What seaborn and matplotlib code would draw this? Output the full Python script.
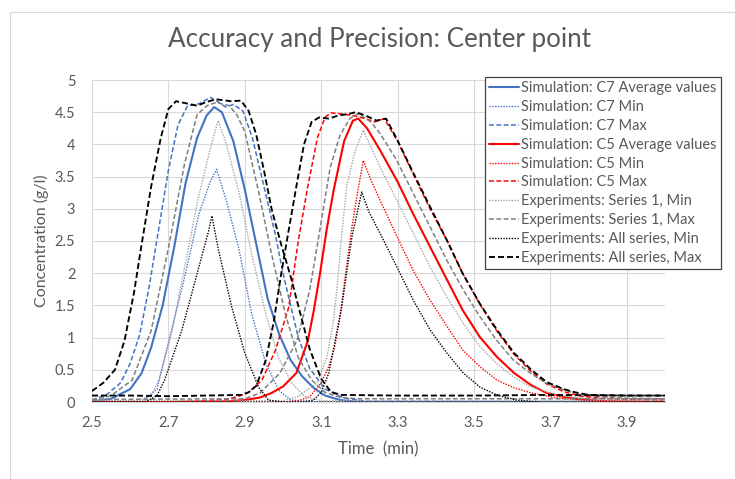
import matplotlib
matplotlib.use("Agg")
import matplotlib.pyplot as plt
import pandas as pd
import seaborn as sns
from matplotlib.patches import Rectangle

# ---------------- data ----------------
# Simulation C7
c7_avg_t = [2.50, 2.55, 2.60, 2.63, 2.655, 2.685, 2.715, 2.745, 2.775, 2.80, 2.82, 2.84, 2.87, 2.90, 2.93, 2.96, 2.99, 3.02, 3.05, 3.08, 3.11, 3.15, 3.20, 4.00]
c7_avg_c = [0.01, 0.05, 0.20, 0.45, 0.85, 1.50, 2.40, 3.40, 4.10, 4.45, 4.58, 4.50, 4.05, 3.30, 2.45, 1.60, 1.05, 0.65, 0.40, 0.22, 0.10, 0.03, 0.0, 0.0]

c7_min_t = [2.50, 2.63, 2.67, 2.697, 2.74, 2.78, 2.81, 2.826, 2.85, 2.884, 2.918, 2.955, 2.988, 3.02, 3.10, 4.00]
c7_min_c = [0.0, 0.0, 0.20, 0.85, 1.88, 2.92, 3.43, 3.61, 3.16, 2.39, 1.37, 0.60, 0.19, 0.03, 0.0, 0.0]

c7_max_t = [2.50, 2.54, 2.575, 2.60, 2.625, 2.65, 2.675, 2.70, 2.725, 2.75, 2.78, 2.81, 2.83, 2.85, 2.87, 2.895, 2.92, 2.95, 2.98, 3.00, 3.02, 3.04, 3.07, 3.11, 3.16, 3.22, 4.00]
c7_max_c = [0.03, 0.12, 0.30, 0.60, 1.05, 1.80, 2.70, 3.60, 4.30, 4.60, 4.63, 4.73, 4.66, 4.58, 4.62, 4.52, 4.10, 3.35, 2.60, 2.00, 1.50, 1.00, 0.52, 0.20, 0.06, 0.01, 0.0]

# Simulation C5
c5_avg_t = [2.50, 2.70, 2.85, 2.90, 2.94, 2.97, 3.00, 3.035, 3.065, 3.08, 3.097, 3.115, 3.133, 3.16, 3.183, 3.197, 3.22, 3.255, 3.30, 3.34, 3.385, 3.43, 3.47, 3.515, 3.56, 3.605, 3.65, 3.69, 3.735, 3.78, 3.85, 4.00]
c5_avg_c = [0.0, 0.0, 0.01, 0.03, 0.07, 0.14, 0.24, 0.45, 0.95, 1.40, 2.00, 2.70, 3.30, 4.05, 4.37, 4.40, 4.25, 3.90, 3.42, 2.93, 2.41, 1.89, 1.43, 1.01, 0.70, 0.45, 0.26, 0.14, 0.08, 0.04, 0.01, 0.0]

c5_min_t = [2.50, 2.90, 3.00, 3.04, 3.07, 3.10, 3.12, 3.135, 3.15, 3.165, 3.18, 3.195, 3.21, 3.23, 3.255, 3.30, 3.34, 3.385, 3.43, 3.47, 3.515, 3.56, 3.605, 3.65, 3.72, 3.80, 4.00]
c5_min_c = [0.0, 0.0, 0.0, 0.02, 0.08, 0.30, 0.55, 0.85, 1.35, 2.05, 2.70, 3.25, 3.75, 3.45, 3.12, 2.55, 2.05, 1.58, 1.17, 0.81, 0.55, 0.34, 0.22, 0.14, 0.06, 0.02, 0.0]

c5_max_t = [2.50, 2.70, 2.80, 2.85, 2.88, 2.91, 2.945, 2.98, 3.015, 3.04, 3.065, 3.09, 3.11, 3.125, 3.16, 3.19, 3.215, 3.24, 3.265, 3.30, 3.34, 3.385, 3.43, 3.47, 3.515, 3.56, 3.605, 3.65, 3.69, 3.735, 3.78, 3.83, 3.90, 4.00]
c5_max_c = [0.0, 0.0, 0.02, 0.04, 0.08, 0.15, 0.34, 0.80, 1.47, 2.50, 3.35, 4.10, 4.42, 4.49, 4.47, 4.44, 4.40, 4.35, 4.40, 4.05, 3.55, 3.00, 2.50, 2.00, 1.52, 1.10, 0.74, 0.47, 0.28, 0.16, 0.09, 0.06, 0.04, 0.03]

# Experiments: Series 1, Min (C7 peak and C5 peak)
s1min_c7_t = [2.50, 2.62, 2.655, 2.675, 2.71, 2.744, 2.778, 2.81, 2.83, 2.85, 2.884, 2.918, 2.955, 2.988, 3.023, 3.058, 3.10, 4.00]
s1min_c7_c = [0.02, 0.02, 0.10, 0.34, 1.11, 2.14, 3.16, 3.94, 4.37, 4.04, 3.27, 2.30, 1.37, 0.69, 0.29, 0.08, 0.02, 0.02]
s1min_c5_t = [2.50, 3.00, 3.037, 3.089, 3.115, 3.131, 3.141, 3.152, 3.167, 3.188, 3.21, 3.254, 3.298, 3.341, 3.385, 3.429, 3.472, 3.516, 3.559, 3.603, 3.647, 3.72, 3.80, 4.00]
s1min_c5_c = [0.02, 0.02, 0.08, 0.29, 0.70, 1.22, 1.74, 2.50, 3.36, 3.88, 4.22, 3.65, 3.13, 2.62, 2.10, 1.63, 1.22, 0.86, 0.60, 0.39, 0.24, 0.10, 0.05, 0.03]

# Experiments: Series 1, Max
s1max_c7_t = [2.50, 2.55, 2.605, 2.655, 2.70, 2.742, 2.775, 2.80, 2.825, 2.86, 2.88, 2.90, 2.936, 2.97, 3.006, 3.04, 3.075, 3.11, 3.15, 3.20, 4.00]
s1max_c7_c = [0.03, 0.10, 0.34, 1.11, 2.39, 3.69, 4.46, 4.60, 4.65, 4.60, 4.45, 4.20, 3.27, 2.30, 1.37, 0.69, 0.34, 0.15, 0.07, 0.05, 0.05]
s1max_c5_t = [2.50, 2.90, 2.94, 2.992, 3.037, 3.07, 3.092, 3.123, 3.149, 3.175, 3.197, 3.23, 3.254, 3.298, 3.341, 3.385, 3.429, 3.472, 3.516, 3.559, 3.603, 3.647, 3.69, 3.734, 3.78, 3.83, 3.90, 4.00]
s1max_c5_c = [0.04, 0.05, 0.14, 0.45, 0.96, 1.74, 2.51, 3.63, 4.14, 4.40, 4.48, 4.35, 4.17, 3.75, 3.24, 2.72, 2.20, 1.74, 1.32, 0.96, 0.65, 0.45, 0.29, 0.19, 0.12, 0.08, 0.06, 0.05]

# Experiments: All series, Min
allmin_c7_t = [2.50, 2.64, 2.67, 2.69, 2.735, 2.775, 2.805, 2.814, 2.83, 2.866, 2.90, 2.936, 2.962, 3.00, 4.00]
allmin_c7_c = [0.0, 0.0, 0.10, 0.34, 1.11, 1.99, 2.65, 2.89, 2.39, 1.47, 0.76, 0.23, 0.03, 0.0, 0.0]
allmin_c5_t = [2.50, 3.05, 3.08, 3.10, 3.12, 3.153, 3.18, 3.206, 3.225, 3.254, 3.298, 3.341, 3.385, 3.429, 3.472, 3.516, 3.559, 3.612, 3.68, 3.75, 3.85, 4.00]
allmin_c5_c = [0.0, 0.0, 0.03, 0.15, 0.45, 1.45, 2.55, 3.26, 2.95, 2.62, 2.10, 1.58, 1.12, 0.76, 0.45, 0.23, 0.11, 0.03, -0.01, -0.02, -0.01, 0.0]

# Experiments: All series, Max
allmax_c7_t = [2.50, 2.53, 2.56, 2.585, 2.61, 2.63, 2.655, 2.68, 2.70, 2.72, 2.745, 2.775, 2.80, 2.825, 2.865, 2.89, 2.91, 2.93, 2.95, 2.97, 2.995, 3.02, 3.045, 3.07, 3.10, 3.125, 3.15, 3.30, 3.50, 3.70, 3.90, 4.00]
allmax_c7_c = [0.17, 0.30, 0.50, 0.95, 1.70, 2.45, 3.35, 4.10, 4.55, 4.67, 4.64, 4.60, 4.66, 4.70, 4.67, 4.68, 4.52, 4.15, 3.60, 3.00, 2.45, 1.95, 1.38, 0.82, 0.36, 0.16, 0.11, 0.10, 0.10, 0.11, 0.10, 0.10]
allmax_c5_t = [2.50, 2.60, 2.70, 2.80, 2.89, 2.91, 2.93, 2.955, 2.975, 2.995, 3.01, 3.035, 3.055, 3.075, 3.095, 3.12, 3.145, 3.17, 3.19, 3.215, 3.245, 3.27, 3.30, 3.34, 3.385, 3.43, 3.47, 3.515, 3.56, 3.605, 3.65, 3.69, 3.735, 3.765, 3.80, 3.90, 4.00]
allmax_c5_c = [0.10, 0.10, 0.09, 0.10, 0.11, 0.15, 0.25, 0.65, 1.22, 1.98, 2.50, 3.35, 4.00, 4.35, 4.42, 4.40, 4.45, 4.47, 4.50, 4.45, 4.37, 4.40, 4.06, 3.57, 3.03, 2.50, 2.00, 1.53, 1.12, 0.76, 0.50, 0.31, 0.20, 0.15, 0.11, 0.10, 0.10]

x_ticks = [2.5, 2.7, 2.9, 3.1, 3.3, 3.5, 3.7, 3.9]
x_tick_labels = ["2.5", "2.7", "2.9", "3.1", "3.3", "3.5", "3.7", "3.9"]
y_ticks = [0, 0.5, 1, 1.5, 2, 2.5, 3, 3.5, 4, 4.5, 5]
y_tick_labels = ["0", "0.5", "1", "1.5", "2", "2.5", "3", "3.5", "4", "4.5", "5"]

title = "Accuracy and Precision: Center point"
x_label = "Time  (min)"
y_label = "Concentration (g/l)"

# ---------------- styling ----------------
BLUE = "#4472C4"
RED = "#FF0000"
GRAY_DOT = "#A5A5A5"
GRAY_DASH = "#7F7F7F"
BLACK = "#000000"
TEXT = "#595959"
DASH = (0, (3.2, 1.6))
DOT = (0, (1, 1))

series = [
    ("Simulation: C7 Average values", BLUE, "-", 1.5, [(c7_avg_t, c7_avg_c)]),
    ("Simulation: C7 Min", BLUE, DOT, 1.0, [(c7_min_t, c7_min_c)]),
    ("Simulation: C7 Max", BLUE, DASH, 1.1, [(c7_max_t, c7_max_c)]),
    ("Simulation: C5 Average values", RED, "-", 1.5, [(c5_avg_t, c5_avg_c)]),
    ("Simulation: C5 Min", RED, DOT, 1.0, [(c5_min_t, c5_min_c)]),
    ("Simulation: C5 Max", RED, DASH, 1.1, [(c5_max_t, c5_max_c)]),
    ("Experiments: Series 1, Min", GRAY_DOT, DOT, 1.0, [(s1min_c7_t, s1min_c7_c), (s1min_c5_t, s1min_c5_c)]),
    ("Experiments: Series 1, Max", GRAY_DASH, DASH, 1.1, [(s1max_c7_t, s1max_c7_c), (s1max_c5_t, s1max_c5_c)]),
    ("Experiments: All series, Min", BLACK, DOT, 1.0, [(allmin_c7_t, allmin_c7_c), (allmin_c5_t, allmin_c5_c)]),
    ("Experiments: All series, Max", BLACK, DASH, 1.35, [(allmax_c7_t, allmax_c7_c), (allmax_c5_t, allmax_c5_c)]),
]

sns.set_theme(style="white")
plt.rcParams['font.family'] = ['Lato', 'DejaVu Sans']

W, H = 735, 479
fig = plt.figure(figsize=(W / 100, H / 100), dpi=100)
fig.patch.set_facecolor("white")
# outer chart border
fig.patches.append(Rectangle((10 / W, -0.05), 1.2, 1 - 12 / H + 0.05, transform=fig.transFigure,
                             fill=False, edgecolor="#D9D9D9", linewidth=0.8, zorder=0))

ax = fig.add_axes([92 / W, 1 - 402 / H, (665 - 92) / W, (402 - 80) / H])
ax.set_facecolor("white")

handles = []
for label, color, ls, lw, parts in series:
    for i, (tt, cc) in enumerate(parts):
        df = pd.DataFrame({"t": tt, "c": cc})
        sns.lineplot(data=df, x="t", y="c", ax=ax, color=color, linestyle=ls, linewidth=lw,
                     sort=False, estimator=None, label=label if i == 0 else "_nolegend_", legend=False)
    handles.append(ax.lines[-len(parts)])

ax.set_xlim(2.5, 4.0)
ax.set_ylim(0, 5)
ax.set_xticks(x_ticks)
ax.set_xticklabels(x_tick_labels)
ax.set_yticks(y_ticks)
ax.set_yticklabels(y_tick_labels)
ax.grid(True, color="#D9D9D9", linewidth=0.8)
ax.set_axisbelow(True)
for s in ["top", "right", "left"]:
    ax.spines[s].set_visible(False)
ax.spines["bottom"].set_color("#D9D9D9")
ax.spines["bottom"].set_linewidth(0.8)
ax.tick_params(axis="both", length=0, labelsize=10.5, labelcolor=TEXT)
ax.tick_params(axis="x", pad=10)
ax.tick_params(axis="y", pad=12)
ax.set_xlabel(x_label, fontsize=12, color=TEXT, labelpad=8)
ax.set_ylabel(y_label, fontsize=11.5, color=TEXT, labelpad=4)

fig.text(380 / W, 1 - 40 / H, title, ha="center", va="center", fontsize=18.7, color=TEXT)

leg = ax.legend(handles=handles, labels=[s[0] for s in series],
                loc="upper left", bbox_to_anchor=(485 / W, 1 - 77 / H), bbox_transform=fig.transFigure,
                fontsize=10.5, frameon=True, fancybox=False, framealpha=1, edgecolor="#404040",
                handlelength=2.05, handletextpad=0.12, labelspacing=0.33, borderpad=0.3,
                borderaxespad=0)
leg.get_frame().set_linewidth(0.9)
for txt in leg.get_texts():
    txt.set_color(TEXT)

fig.savefig("out.png", dpi=100, facecolor="white")
